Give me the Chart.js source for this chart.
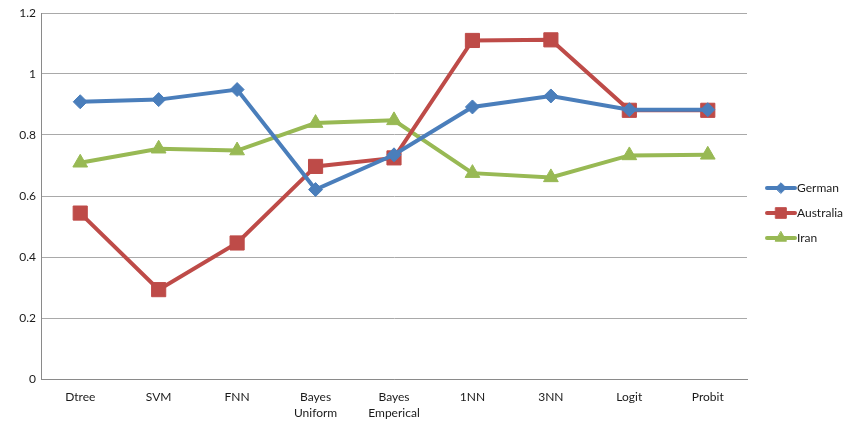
<!DOCTYPE html>
<html>
<head>
<meta charset="utf-8">
<script src="https://cdn.jsdelivr.net/npm/chart.js@4/dist/chart.umd.min.js"></script>
<style>
  html, body { margin: 0; padding: 0; background: #fff; }
  #wrap { width: 846px; height: 423px; }
</style>
</head>
<body>
<div id="wrap"><canvas id="c" width="846" height="423"></canvas></div>
<script>
// Classifier names along the horizontal axis
const categories = ['Dtree', 'SVM', 'FNN', ['Bayes', 'Uniform'], ['Bayes', 'Emperical'], '1NN', '3NN', 'Logit', 'Probit'];

// Scores per dataset
const german    = [0.909, 0.916, 0.949, 0.621, 0.735, 0.892, 0.928, 0.883, 0.883];
const australia = [0.544, 0.293, 0.446, 0.697, 0.725, 1.110, 1.112, 0.881, 0.881];
const iran      = [0.709, 0.755, 0.749, 0.839, 0.848, 0.675, 0.661, 0.733, 0.735];

// Value axis ticks
const yTicks = [0, 0.2, 0.4, 0.6, 0.8, 1, 1.2];

const FONT = 'Lato, "Liberation Sans", sans-serif';

// Legend on the right: short line with the series marker, then the name
const sideLegend = {
  id: 'sideLegend',
  afterDraw(chart) {
    const ctx = chart.ctx;
    const x0 = 767, x1 = 795, tx = 797;
    const ys = [188, 213, 238];
    chart.data.datasets.forEach((ds, i) => {
      const y = ys[i];
      ctx.save();
      ctx.strokeStyle = ds.borderColor;
      ctx.lineWidth = 4;
      ctx.lineCap = 'round';
      ctx.beginPath();
      ctx.moveTo(x0, y);
      ctx.lineTo(x1, y);
      ctx.stroke();
      ctx.fillStyle = ds.pointBackgroundColor;
      ctx.strokeStyle = ds.pointBackgroundColor;
      ctx.lineWidth = 1;
      Chart.helpers.drawPoint(ctx, {
        pointStyle: ds.pointStyle,
        radius: ds.pointRadius * 0.75,
        rotation: 0,
        borderWidth: 1
      }, (x0 + x1) / 2, y);
      ctx.fillStyle = '#1a1a1a';
      ctx.font = '12px ' + FONT;
      ctx.textAlign = 'left';
      ctx.textBaseline = 'middle';
      ctx.fillText(ds.label, tx, y);
      ctx.restore();
    });
  }
};

function series(label, data, color, style, radius) {
  return {
    label, data,
    borderColor: color,
    backgroundColor: color,
    borderWidth: 4,
    tension: 0,
    pointStyle: style,
    pointRadius: radius,
    pointHoverRadius: radius,
    pointBackgroundColor: color,
    pointBorderColor: color,
    pointBorderWidth: 1
  };
}

new Chart(document.getElementById('c'), {
  type: 'line',
  data: {
    labels: categories,
    datasets: [
      series('German', german, '#4a7ebb', 'rectRot', 7),
      series('Australia', australia, '#be4b48', 'rect', 10),
      series('Iran', iran, '#98b954', 'triangle', 8.5)
    ]
  },
  options: {
    responsive: false,
    animation: false,
    layout: { padding: { left: 0, right: 99, top: 13, bottom: 0 } },
    plugins: {
      legend: { display: false },
      tooltip: { enabled: false }
    },
    scales: {
      x: {
        offset: true,
        grid: { display: false, drawTicks: false },
        border: { color: '#8a8a8a', width: 1 },
        ticks: {
          color: '#1a1a1a',
          font: { family: FONT, size: 12, lineHeight: 1.35 },
          padding: 10,
          maxRotation: 0,
          autoSkip: false
        },
        afterFit(scale) { scale.height = 44; }
      },
      y: {
        min: 0,
        max: 1.2,
        afterBuildTicks(scale) { scale.ticks = yTicks.map(v => ({ value: v })); },
        grid: { color: '#a9a9a9', lineWidth: 1, drawTicks: false },
        border: { color: '#8a8a8a', width: 1 },
        ticks: {
          color: '#1a1a1a',
          font: { family: FONT, size: 12 },
          padding: 5,
          callback: v => String(Math.round(v * 10) / 10)
        },
        afterFit(scale) { scale.width = 41; }
      }
    }
  },
  plugins: [sideLegend]
});
</script>
</body>
</html>
